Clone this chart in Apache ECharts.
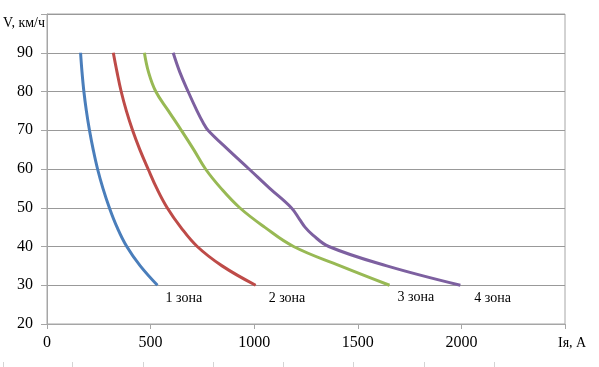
<!DOCTYPE html>
<html><head><meta charset="utf-8">
<script src="https://cdn.jsdelivr.net/npm/echarts@6/dist/echarts.min.js"></script>
<style>html,body{margin:0;padding:0;background:#fff}#c{width:599px;height:367px}</style>
</head><body><div id="c"></div>
<script>
// Speed V, km/h (y) vs armature current Iя, A (x)
const speeds = [90, 85, 80, 75, 70, 65, 60, 55, 50, 45, 40, 35, 30];
const zone1 = [162, 169, 178, 190, 205, 223, 244, 270, 301, 338, 385, 450, 533];
const zone2 = [320, 338, 358, 383, 413, 448, 488, 530, 580, 645, 725, 845, 1007];
const zone3 = [470, 490, 525, 586, 648, 708, 765, 840, 930, 1050, 1190, 1415, 1653];
const zone4Speeds = [90, 85, 80, 75, 72, 70, 65, 60, 55, 50, 47, 45, 43, 40, 35, 30];
const zone4 = [609, 641, 681, 724, 753, 777, 874, 975, 1075, 1179, 1219, 1245, 1282, 1360, 1640, 1995];
const zoneNames = ['1 зона', '2 зона', '3 зона', '4 зона'];
const zoneColors = ['#4a7ebb', '#be4b48', '#98b954', '#7d60a0'];
const xAxisTitle = 'Iя, А';
const yAxisTitle = 'V, км/ч';

const font = 'Liberation Serif';
const labelOffsets = [[8, 13], [13, 13], [8, 12], [14, 13]];

function pairs(xs, vs) { return xs.map((x, i) => [x, vs[i]]); }
const seriesData = [
  pairs(zone1, speeds),
  pairs(zone2, speeds),
  pairs(zone3, speeds),
  pairs(zone4, zone4Speeds)
];

const chart = echarts.init(document.getElementById('c'));
const bottomTicks = [3, 72, 143, 213, 283, 353, 424, 494];
chart.setOption({
  animation: false,
  backgroundColor: '#fff',
  grid: { left: 47, right: 34, top: 14, bottom: 43, show: true, borderColor: '#a6a6a6', borderWidth: 1, backgroundColor: 'transparent' },
  xAxis: {
    type: 'value', min: 0, max: 2500, interval: 500,
    name: xAxisTitle, nameLocation: 'end', nameGap: -7,
    nameTextStyle: { fontFamily: font, fontSize: 14, color: '#000', align: 'left', verticalAlign: 'top', padding: [12, 0, 0, 0] },
    axisLine: { show: true, lineStyle: { color: '#a6a6a6', width: 1 } },
    axisTick: { show: true, length: 5, lineStyle: { color: '#a6a6a6' } },
    splitLine: { show: false },
    axisLabel: { fontFamily: font, fontSize: 16, color: '#000', margin: 11,
      formatter: v => v === 2500 ? '' : String(v) }
  },
  yAxis: {
    type: 'value', min: 20, max: 100, interval: 10,
    name: yAxisTitle, nameLocation: 'end', nameGap: -9,
    nameTextStyle: { fontFamily: font, fontSize: 14, color: '#000', align: 'right', verticalAlign: 'middle', padding: [0, 2, 0, 0] },
    axisLine: { show: true, lineStyle: { color: '#a6a6a6', width: 1 } },
    axisTick: { show: true, length: 6, lineStyle: { color: '#a6a6a6' } },
    splitLine: { show: true, lineStyle: { color: '#999', width: 1 } },
    axisLabel: { fontFamily: font, fontSize: 16, color: '#000', margin: 14,
      formatter: v => v === 100 ? '' : String(v) }
  },
  series: seriesData.map((d, i) => ({
    type: 'line',
    data: d,
    smooth: 0.4,
    showSymbol: false,
    symbol: 'none',
    lineStyle: { color: zoneColors[i], width: 3 },
    itemStyle: { color: zoneColors[i] },
    markPoint: {
      symbol: 'circle', symbolSize: 1,
      itemStyle: { color: 'rgba(0,0,0,0)' },
      data: [{
        coord: d[d.length - 1],
        label: { show: true, formatter: zoneNames[i], position: 'inside', align: 'left', verticalAlign: 'middle',
          offset: labelOffsets[i], fontFamily: font, fontSize: 14, color: '#000' }
      }]
    }
  })),
  graphic: bottomTicks.map(x => ({
    type: 'line', silent: true,
    shape: { x1: x + 0.5, y1: 362, x2: x + 0.5, y2: 367 },
    style: { stroke: '#d4d4d4', lineWidth: 1 }
  }))
});
</script>
</body></html>
